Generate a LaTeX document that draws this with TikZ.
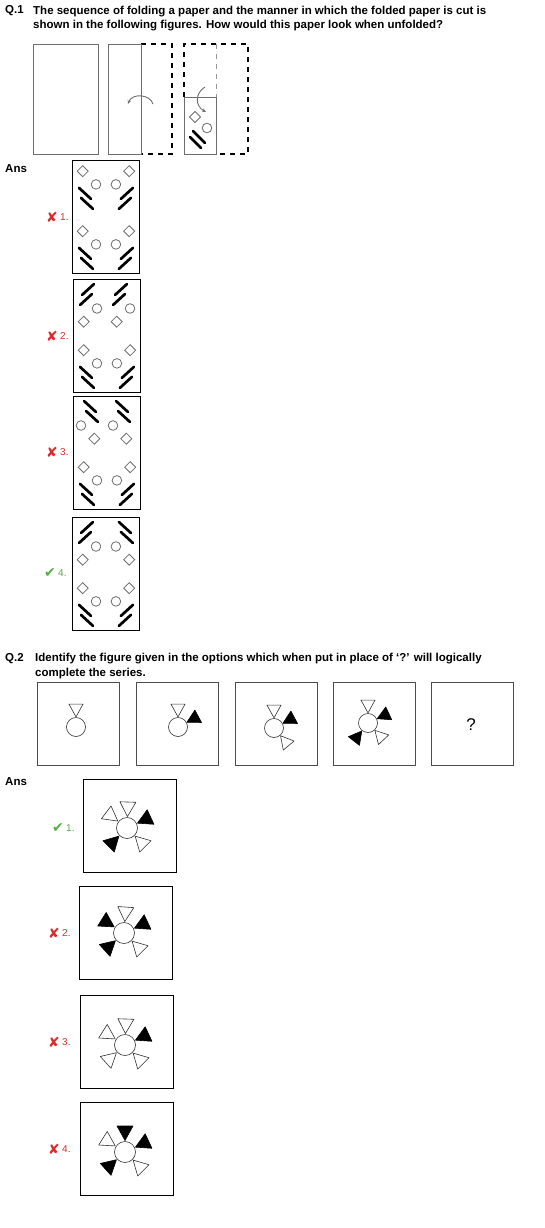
\documentclass[tikz,border=0pt]{standalone}
\usepackage{fontspec}
\setmainfont{Liberation Sans}
\newfontfamily\markfont{DejaVu Sans}
\usepackage{tikz}
\usetikzlibrary{calc,arrows.meta}

\definecolor{WrongRed}{RGB}{215,45,45}
\definecolor{RightGreen}{RGB}{85,175,70}
\definecolor{PaperGray}{RGB}{110,110,110}

\tikzset{
  paper/.style={draw=PaperGray, line width=0.9pt},
  foldline/.style={draw=black, line width=1.1pt, dash pattern=on 5pt off 5pt},
  innerfold/.style={draw=PaperGray!70, line width=0.8pt, dash pattern=on 5pt off 5pt},
  cut/.style={line width=2.7pt, line cap=round},
  hole/.style={draw=PaperGray, line width=0.8pt},
  optbox/.style={draw=black, line width=0.9pt, inner sep=0pt, anchor=north west},
  seqbox/.style={draw=black!70, line width=0.9pt, inner sep=0pt, anchor=north west,
    minimum width=82pt, minimum height=83pt},
  ring/.style={circle, draw=black!80, line width=0.6pt, inner sep=0pt},
  whitespike/.style={draw=black!80, fill=white, line width=0.6pt, line join=round},
  blackspike/.style={draw=black, fill=black, line width=0.6pt, line join=round},
  qtext/.style={font=\bfseries\fontsize{11.5}{14.5}\selectfont, align=left, inner sep=0pt},
  optlabel/.style={font=\fontsize{10}{11}\selectfont, inner sep=0pt, anchor=west},
  tick/.style={font=\markfont\fontsize{14}{15}\selectfont, inner sep=0pt, anchor=east},
}

% one cut made through the folded paper (lines, circle, diamond)
\newcommand{\holeset}{%
  \draw[cut] (9,16) -- (21,5);
  \draw[cut] (7,26) -- (19,15);
  \draw[hole] (24,29.5) circle (4.8pt);
  \draw[hole] (10.7,37.2) -- (16.2,42.7) -- (10.7,48.2) -- (5.2,42.7) -- cycle;
}
% triangle pointing at a ring: ring, angle, style
\newcommand{\spike}[3]{%
  \begin{scope}[shift={(#1)}, rotate=#2, scale=\spikesize]
    \draw[#3] (11.5pt,0pt) -- (26pt,8pt) -- (26pt,-8pt) -- cycle;
  \end{scope}}
\newcommand{\spikesize}{1}

\begin{document}
\begin{tikzpicture}[x=1pt, y=-1pt]
  \useasboundingbox (0,0) rectangle (544,1228);
  \fill[white] (0,0) rectangle (544,1228);

  % ---- question 1 ----
  \node[qtext, anchor=base west] (q1num) at (5,14) {Q.1};
  \node[qtext, anchor=north west] (q1text) at (33,5.5) {The sequence of folding a paper and the manner in which the folded paper is cut is\\shown in the following figures. How would this paper look when unfolded?};

  % folding steps
  \draw[paper] (33,44) rectangle (98,154);

  \draw[foldline] (141,44) -- (172,44) -- (172,154) -- (141,154);
  \draw[paper] (108,44) rectangle (141,154);
  \draw[paper, -{Stealth[length=4pt,width=3.5pt]}] (153,104) .. controls (150,94) and (132,93) .. (128,104);

  \draw[foldline] (184,97) -- (184,44) -- (248,44) -- (248,154) -- (216,154);
  \draw[innerfold] (216,44) -- (216,97);
  \draw[paper] (184,97) rectangle (216,154);
  \draw[paper, -{Stealth[length=4pt,width=3.5pt]}] (205,87) .. controls (195,93) and (195,106) .. (206,112);
  \draw[hole] (195,111.5) -- (200.5,117) -- (195,122.5) -- (189.5,117) -- cycle;
  \draw[hole] (207,128) circle (4.8pt);
  \draw[cut] (193,131) -- (205,143);
  \draw[cut] (190,137) -- (201,148);

  \node[qtext, anchor=base west] (ans1) at (5,172) {Ans};

  % answer figures
  \node[optbox, minimum width=67pt, minimum height=113pt] (opt1) at (72,160) {};
  \node[optbox, minimum width=67pt, minimum height=113pt] (opt2) at (73,279) {};
  \node[optbox, minimum width=67pt, minimum height=113pt] (opt3) at (73,396) {};
  \node[optbox, minimum width=67pt, minimum height=113pt] (opt4) at (72,517) {};

  \foreach \o in {opt1,opt2,opt3,opt4} {
    \begin{scope}[shift={(\o.south west)}, yscale=-1] \holeset \end{scope}
    \begin{scope}[shift={(\o.south east)}, xscale=-1, yscale=-1] \holeset \end{scope}
  }
  \begin{scope}[shift={($(opt1.south west)+(0,-60)$)}, yscale=-1] \holeset \end{scope}
  \begin{scope}[shift={($(opt1.south east)+(0,-60)$)}, xscale=-1, yscale=-1] \holeset \end{scope}
  \begin{scope}[shift={(opt2.north west)}] \holeset \end{scope}
  \begin{scope}[shift={($(opt2.north west)+(33,0)$)}] \holeset \end{scope}
  \begin{scope}[shift={($(opt3.north west)+(32,0)$)}, xscale=-1] \holeset \end{scope}
  \begin{scope}[shift={($(opt3.north west)+(64,0)$)}, xscale=-1] \holeset \end{scope}
  \begin{scope}[shift={(opt4.north west)}] \holeset \end{scope}
  \begin{scope}[shift={(opt4.north east)}, xscale=-1] \holeset \end{scope}

  \node[optlabel, text=WrongRed] (n1) at (60,217) {1.};
  \node[tick, text=WrongRed] (m1) at ([xshift=-2pt]n1.west) {✘};
  \node[optlabel, text=WrongRed] (n2) at (60,336) {2.};
  \node[tick, text=WrongRed] (m2) at ([xshift=-2pt]n2.west) {✘};
  \node[optlabel, text=WrongRed] (n3) at (60,452) {3.};
  \node[tick, text=WrongRed] (m3) at ([xshift=-2pt]n3.west) {✘};
  \node[optlabel, text=RightGreen] (n4) at (58,573) {4.};
  \node[tick, text=RightGreen] (m4) at ([xshift=-2pt]n4.west) {✔};

  % ---- question 2 ----
  \node[qtext, anchor=base west] (q2num) at (5,661.5) {Q.2};
  \node[qtext, anchor=north west] (q2text) at (35,653) {Identify the figure given in the options which when put in place of ‘?’ will logically\\complete the series.};

  \node[seqbox] (s1) at (37,682) {};
  \node[seqbox] (s2) at (136,682) {};
  \node[seqbox] (s3) at (235,682) {};
  \node[seqbox] (s4) at (333,682) {};
  \node[seqbox] (s5) at (431,682) {};

  \renewcommand{\spikesize}{0.88}
  \node[ring, minimum size=19pt] (c1) at (76,727) {};
  \spike{c1}{90}{whitespike}
  \node[ring, minimum size=19pt] (c2) at (178,727) {};
  \spike{c2}{90}{whitespike}
  \spike{c2}{28}{blackspike}
  \node[ring, minimum size=19pt] (c3) at (274,728) {};
  \spike{c3}{90}{whitespike}
  \spike{c3}{28}{blackspike}
  \spike{c3}{-50}{whitespike}
  \node[ring, minimum size=19pt] (c4) at (368,723) {};
  \spike{c4}{90}{whitespike}
  \spike{c4}{25}{blackspike}
  \spike{c4}{-47}{whitespike}
  \spike{c4}{232}{blackspike}
  \node[font=\fontsize{17}{19}\selectfont] (qmark) at (471,725) {?};

  \node[qtext, anchor=base west] (ans2) at (5,785) {Ans};

  \renewcommand{\spikesize}{1}
  \node[optbox, minimum width=93pt, minimum height=93pt] (b1) at (83,779) {};
  \node[optbox, minimum width=93pt, minimum height=93pt] (b2) at (79,886) {};
  \node[optbox, minimum width=93pt, minimum height=93pt] (b3) at (80,995) {};
  \node[optbox, minimum width=93pt, minimum height=93pt] (b4) at (80,1102) {};

  \node[ring, minimum size=21pt] (r1) at (127,828) {};
  \spike{r1}{88}{whitespike}
  \spike{r1}{143}{whitespike}
  \spike{r1}{25}{blackspike}
  \spike{r1}{225}{blackspike}
  \spike{r1}{-45}{whitespike}
  \node[ring, minimum size=21pt] (r2) at (124,933) {};
  \spike{r2}{86}{whitespike}
  \spike{r2}{148}{blackspike}
  \spike{r2}{25}{blackspike}
  \spike{r2}{222}{blackspike}
  \spike{r2}{-45}{whitespike}
  \node[ring, minimum size=21pt] (r3) at (125,1045) {};
  \spike{r3}{88}{whitespike}
  \spike{r3}{148}{whitespike}
  \spike{r3}{25}{blackspike}
  \spike{r3}{222}{whitespike}
  \spike{r3}{-45}{whitespike}
  \node[ring, minimum size=21pt] (r4) at (125,1152) {};
  \spike{r4}{90}{blackspike}
  \spike{r4}{148}{whitespike}
  \spike{r4}{25}{blackspike}
  \spike{r4}{222}{blackspike}
  \spike{r4}{-45}{whitespike}

  \node[optlabel, text=RightGreen] (k1) at (66,828) {1.};
  \node[tick, text=RightGreen] (t1) at ([xshift=-2pt]k1.west) {✔};
  \node[optlabel, text=WrongRed] (k2) at (62,933) {2.};
  \node[tick, text=WrongRed] (t2) at ([xshift=-2pt]k2.west) {✘};
  \node[optlabel, text=WrongRed] (k3) at (62,1042) {3.};
  \node[tick, text=WrongRed] (t3) at ([xshift=-2pt]k3.west) {✘};
  \node[optlabel, text=WrongRed] (k4) at (62,1149) {4.};
  \node[tick, text=WrongRed] (t4) at ([xshift=-2pt]k4.west) {✘};
\end{tikzpicture}
\end{document}
